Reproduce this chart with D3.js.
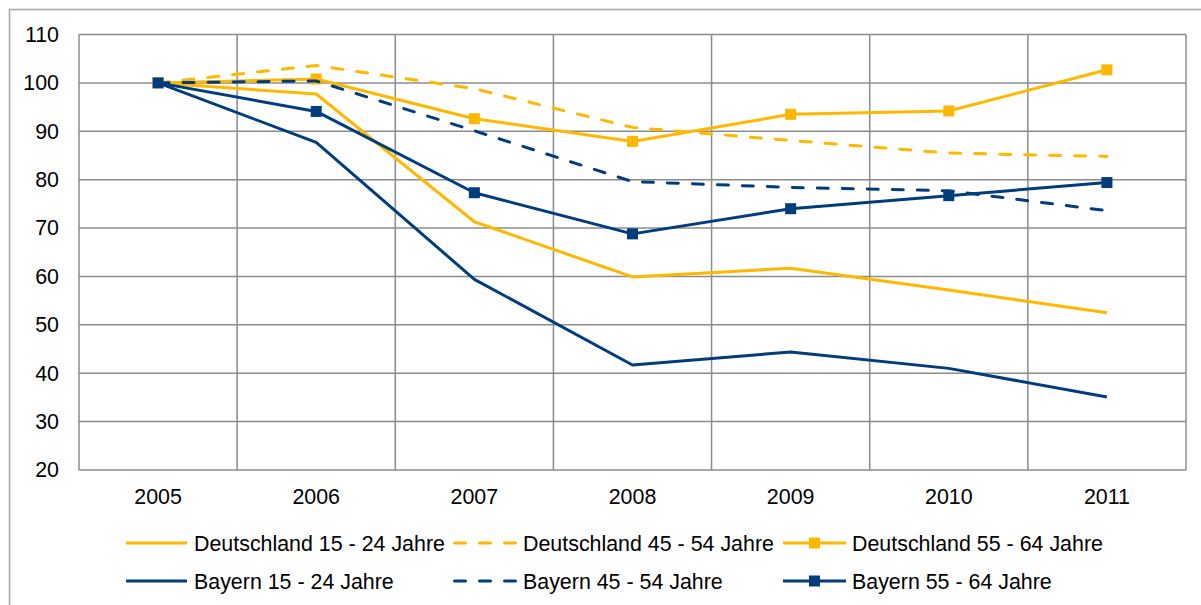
<!DOCTYPE html>
<html>
<head>
<meta charset="utf-8">
<script src="https://cdn.jsdelivr.net/npm/d3@7"></script>
<style>
  body { margin: 0; background: #fff; }
  svg text { font-family: "Liberation Sans", Arial, sans-serif; fill: #000; }
</style>
</head>
<body>
<div id="chart"></div>
<script>
var years = ["2005", "2006", "2007", "2008", "2009", "2010", "2011"];
var yTicks = [20, 30, 40, 50, 60, 70, 80, 90, 100, 110];

var deutschland15 = [100, 97.7, 71.3, 59.9, 61.7, 57.2, 52.5];
var deutschland45 = [100, 103.6, 98.8, 90.8, 88.1, 85.5, 84.8];
var deutschland55 = [100, 100.8, 92.6, 87.9, 93.5, 94.2, 102.7];
var bayern15 = [100, 87.7, 59.4, 41.7, 44.4, 41.0, 35.1];
var bayern45 = [100, 100.4, 90.1, 79.6, 78.4, 77.7, 73.6];
var bayern55 = [100, 94.1, 77.3, 68.8, 74.0, 76.7, 79.4];

var yellow = "#ffb800";
var blue = "#003d7d";
var fontSize = 21.4;

var series = [
  { name: "Deutschland 15 - 24 Jahre", values: deutschland15, color: yellow, dashed: false, marker: false },
  { name: "Deutschland 45 - 54 Jahre", values: deutschland45, color: yellow, dashed: true, marker: false },
  { name: "Deutschland 55 - 64 Jahre", values: deutschland55, color: yellow, dashed: false, marker: true },
  { name: "Bayern 15 - 24 Jahre", values: bayern15, color: blue, dashed: false, marker: false },
  { name: "Bayern 45 - 54 Jahre", values: bayern45, color: blue, dashed: true, marker: false },
  { name: "Bayern 55 - 64 Jahre", values: bayern55, color: blue, dashed: false, marker: true }
];

var svgWidth = 1201;
var svgHeight = 605;
var plot = { left: 79, right: 1186, top: 34.5, bottom: 470 };

var svg = d3.select("#chart")
  .append("svg")
  .attr("width", svgWidth)
  .attr("height", svgHeight);

// outer chart border
svg.append("rect")
  .attr("x", 9.5)
  .attr("y", 9.5)
  .attr("width", 1300)
  .attr("height", 700)
  .attr("fill", "none")
  .attr("stroke", "#a6a6a6")
  .attr("stroke-width", 1.5);

var xBand = d3.scaleBand()
  .domain(years)
  .range([plot.left, plot.right])
  .padding(0);

var xCenter = function(d) { return xBand(d) + xBand.bandwidth() / 2; };

var yScale = d3.scaleLinear()
  .domain([20, 110])
  .range([plot.bottom, plot.top]);

var grid = svg.append("g").attr("stroke", "#8c8c8c").attr("stroke-width", 1.5);

grid.selectAll(".hgrid")
  .data(yTicks)
  .enter()
  .append("line")
  .attr("x1", plot.left)
  .attr("x2", plot.right)
  .attr("y1", d => yScale(d))
  .attr("y2", d => yScale(d));

grid.selectAll(".vgrid")
  .data(years.concat(["end"]))
  .enter()
  .append("line")
  .attr("x1", d => d === "end" ? plot.right : xBand(d))
  .attr("x2", d => d === "end" ? plot.right : xBand(d))
  .attr("y1", plot.top)
  .attr("y2", plot.bottom);

// y axis labels
var leftAxis = d3.axisLeft(yScale).tickValues(yTicks).tickSize(0).tickPadding(20);
var yAxisG = svg.append("g")
  .attr("transform", `translate(${plot.left}, 0)`)
  .call(leftAxis);
yAxisG.select(".domain").remove();
yAxisG.selectAll("text")
  .attr("font-size", fontSize)
  .attr("font-family", "Liberation Sans, Arial, sans-serif")
  .attr("fill", "#000");

// x axis labels
var xAxisG = svg.append("g");
xAxisG.selectAll("text")
  .data(years)
  .enter()
  .append("text")
  .attr("x", d => xCenter(d))
  .attr("y", 504)
  .attr("text-anchor", "middle")
  .attr("font-size", fontSize)
  .text(d => d);

var line = d3.line()
  .x((d, i) => xCenter(years[i]))
  .y(d => yScale(d));

var linesGroup = svg.append("g");

series.forEach(function(s) {
  linesGroup.append("path")
    .datum(s.values)
    .attr("d", line)
    .attr("fill", "none")
    .attr("stroke", s.color)
    .attr("stroke-width", 3)
    .attr("stroke-linejoin", "round")
    .attr("stroke-linecap", s.dashed ? "round" : "butt")
    .attr("stroke-dasharray", s.dashed ? "11,14" : null);

  if (s.marker) {
    linesGroup.selectAll(null)
      .data(s.values)
      .enter()
      .append("rect")
      .attr("x", (d, i) => xCenter(years[i]) - 5.5)
      .attr("y", d => yScale(d) - 5.5)
      .attr("width", 11)
      .attr("height", 11)
      .attr("fill", s.color);
  }
});

// legend
var legendCols = [
  { lineX: 126, lineW: 61, textX: 194 },
  { lineX: 453, lineW: 64, textX: 523 },
  { lineX: 783, lineW: 63, textX: 852 }
];
var legendRows = [543, 581];

var legend = svg.append("g");
series.forEach(function(s, i) {
  var col = legendCols[i % 3];
  var y = legendRows[Math.floor(i / 3)];
  var g = legend.append("g");
  g.append("line")
    .attr("x1", col.lineX + (s.dashed ? 1.5 : 0))
    .attr("x2", col.lineX + col.lineW - (s.dashed ? 1.5 : 0))
    .attr("y1", y)
    .attr("y2", y)
    .attr("stroke", s.color)
    .attr("stroke-width", 3)
    .attr("stroke-linecap", s.dashed ? "round" : "butt")
    .attr("stroke-dasharray", s.dashed ? "11,14" : null);
  if (s.marker) {
    g.append("rect")
      .attr("x", col.lineX + col.lineW / 2 - 5.5)
      .attr("y", y - 5.5)
      .attr("width", 11)
      .attr("height", 11)
      .attr("fill", s.color);
  }
  g.append("text")
    .attr("x", col.textX)
    .attr("y", y)
    .attr("dy", "0.36em")
    .attr("font-size", fontSize)
    .text(s.name);
});
</script>
</body>
</html>
